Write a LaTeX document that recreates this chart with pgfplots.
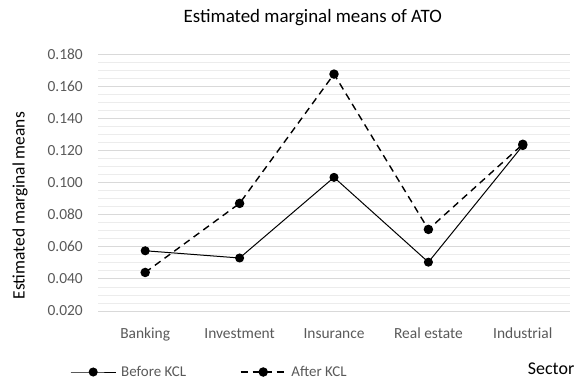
\documentclass[border=0pt]{standalone}
\usepackage{fontspec}
\setmainfont{Carlito}
\usepackage{pgfplots}
\pgfplotsset{compat=1.18}
\definecolor{tickgray}{RGB}{89,89,89}
\definecolor{majgrid}{RGB}{217,217,217}
\definecolor{mingrid}{RGB}{236,236,236}
\begin{document}
\begin{tikzpicture}[x=1bp,y=1bp]
\useasboundingbox (0,0) rectangle (585,380);
\begin{axis}[
  at={(98bp,69bp)}, anchor=south west,
  scale only axis, width=472bp, height=257bp,
  xmin=-0.5, xmax=4.5, ymin=0.02, ymax=0.18,
  xtick={0,1,2,3,4},
  xticklabels={Banking,Investment,Insurance,Real estate,Industrial},
  ytick={0.02,0.04,0.06,0.08,0.10,0.12,0.14,0.16,0.18},
  minor ytick={0.025,0.03,0.035,0.045,0.05,0.055,0.065,0.07,0.075,0.085,0.09,0.095,0.105,0.11,0.115,0.125,0.13,0.135,0.145,0.15,0.155,0.165,0.17,0.175},
  ymajorgrids, yminorgrids,
  major grid style={draw=majgrid, line width=0.8bp},
  minor grid style={draw=mingrid, line width=0.8bp},
  axis line style={draw=none},
  tick style={draw=none},
  scaled y ticks=false,
  /pgf/number format/assume math mode=true,
  yticklabel style={/pgf/number format/fixed, /pgf/number format/fixed zerofill, /pgf/number format/precision=3, font=\fontsize{15.5}{15.5}\selectfont, text=tickgray, anchor=east, inner sep=0pt, xshift=-15bp},
  xticklabel style={font=\fontsize{15.5}{15.5}\selectfont, text=tickgray, anchor=base, inner sep=0pt, yshift=-27bp},
  title={Estimated marginal means of ATO},
  title style={font=\fontsize{19}{19}\selectfont, at={(axis description cs:0.455,1)}, anchor=base, inner sep=0pt, yshift=26bp},
  xlabel={Sector},
  xlabel style={font=\fontsize{18}{18}\selectfont, at={(axis description cs:0.96,0)}, anchor=center, yshift=-58bp},
  ylabel={Estimated marginal means},
  ylabel style={font=\fontsize{17.5}{17.5}\selectfont, at={(axis description cs:-0.165,0.41)}, anchor=center},
  legend columns=2,
  legend style={draw=none, fill=none, inner sep=0pt, at={(0,0)}, anchor=west, xshift=-28bp, yshift=-61bp, font=\fontsize{15}{15}\selectfont, text=tickgray, nodes={inner sep=0pt}, /tikz/every odd column/.append style={column sep=5bp}, /tikz/every even column/.append style={column sep=54bp}},
  legend image code/.code={\draw[mark repeat=2,mark phase=2,#1] plot coordinates {(0bp,0bp) (22.5bp,0bp) (45bp,0bp)};},
]
\addplot[black, line width=1bp, mark=*, mark size=4bp] coordinates {(0,0.0575) (1,0.0530) (2,0.1032) (3,0.0504) (4,0.1230)};
\addlegendentry{Before KCL}
\addplot[black, line width=1.4bp, dash pattern=on 7bp off 5bp, mark=*, mark size=4bp, mark options={solid}] coordinates {(0,0.0440) (1,0.0870) (2,0.1675) (3,0.0708) (4,0.1238)};
\addlegendentry{After KCL}
\end{axis}
\end{tikzpicture}
\end{document}
